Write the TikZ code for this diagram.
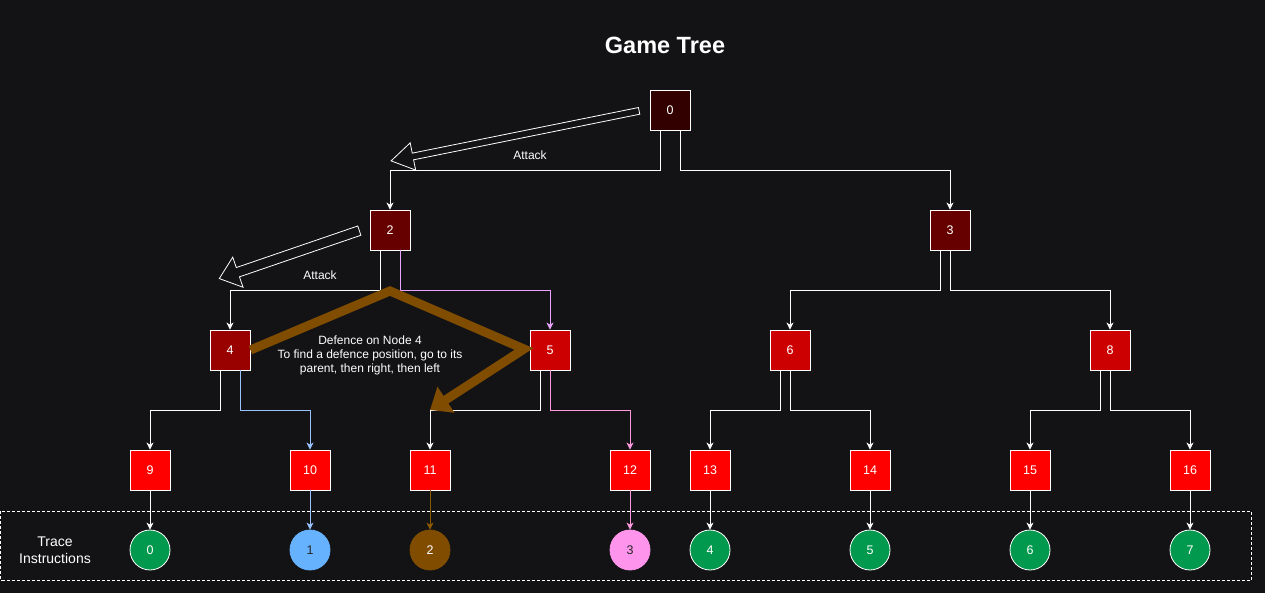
\documentclass[tikz,border=0pt]{standalone}
\usepackage{fontspec}
\setmainfont{Liberation Sans}
\usetikzlibrary{arrows.meta,shapes.arrows}

\definecolor{bgdark}{HTML}{131315}
\definecolor{red0}{HTML}{330000}
\definecolor{red1}{HTML}{660000}
\definecolor{red2}{HTML}{990000}
\definecolor{red3}{HTML}{CC0000}
\definecolor{red4}{HTML}{FF0000}
\definecolor{greenleaf}{HTML}{00994D}
\definecolor{blueleaf}{HTML}{66B2FF}
\definecolor{brownleaf}{HTML}{7F4C00}
\definecolor{pinkleaf}{HTML}{FF94EC}
\definecolor{violetline}{HTML}{E8A4FF}
\definecolor{blueline}{HTML}{99C2FF}
\definecolor{pinkline}{HTML}{FF9ADF}
\definecolor{brownline}{HTML}{8C5A00}

\begin{document}
\begin{tikzpicture}[x=1pt,y=-1pt]
      \tikzset { box/.style = { shape=rectangle,draw=white,line width=0.9pt,minimum size=40pt,inner sep=0pt,text=white,font=\fontsize{12.5}{14}\selectfont } }
      \tikzset { leaf/.style = { shape=circle,draw=white,line width=0.8pt,minimum size=40pt,inner sep=0pt,text=white,font=\fontsize{12.5}{14}\selectfont } }
      \tikzset { edge/.style = { -{Stealth[length=7pt,width=7pt,inset=2pt]},color=white,line width=0.9pt } }
      \tikzset { attack/.style = { shape=single arrow,draw=white,line width=0.8pt,anchor=tail,inner xsep=0pt } }
      \tikzset { label/.style = { text=white,font=\fontsize{12}{14}\selectfont,align=center } }

      % background and frame
      \fill[bgdark] (0,0) rectangle (1265,593);
      \useasboundingbox (0,0) rectangle (1265,593);
      \draw[white,line width=0.8pt,dash pattern=on 3pt off 2pt] (0.5,511) rectangle (1251,580);

      \node[label,font=\fontsize{23.5}{26}\selectfont\bfseries] (title) at (665,45) {Game Tree};
      \node[label,font=\fontsize{14}{16.5}\selectfont] (trace) at (55,550) {Trace\\Instructions};

      % tree
      \node[box,fill=red0] (n0) at (670,110) {0};
      \node[box,fill=red1] (n2) at (390,230) {2};
      \node[box,fill=red1] (n3) at (950,230) {3};
      \node[box,fill=red2] (n4) at (230,350) {4};
      \node[box,fill=red3] (n5) at (550,350) {5};
      \node[box,fill=red3] (n6) at (790,350) {6};
      \node[box,fill=red3] (n8) at (1110,350) {8};
      \node[box,fill=red4] (n9) at (150,470) {9};
      \node[box,fill=red4] (n10) at (310,470) {10};
      \node[box,fill=red4] (n11) at (430,470) {11};
      \node[box,fill=red4] (n12) at (630,470) {12};
      \node[box,fill=red4] (n13) at (710,470) {13};
      \node[box,fill=red4] (n14) at (870,470) {14};
      \node[box,fill=red4] (n15) at (1030,470) {15};
      \node[box,fill=red4] (n16) at (1190,470) {16};

      % trace instructions
      \node[leaf,fill=greenleaf] (t0) at (150,550) {0};
      \node[leaf,fill=blueleaf,draw=blueleaf,text=black!85] (t1) at (310,550) {1};
      \node[leaf,fill=brownleaf,draw=brownleaf] (t2) at (430,550) {2};
      \node[leaf,fill=pinkleaf,draw=pinkleaf,text=black!85] (t3) at (630,550) {3};
      \node[leaf,fill=greenleaf] (t4) at (710,550) {4};
      \node[leaf,fill=greenleaf] (t5) at (870,550) {5};
      \node[leaf,fill=greenleaf] (t6) at (1030,550) {6};
      \node[leaf,fill=greenleaf] (t7) at (1190,550) {7};

      \draw[edge] ([xshift=-10pt]n0.south) -- ++(0,40) -| (n2.north);
      \draw[edge] ([xshift=10pt]n0.south) -- ++(0,40) -| (n3.north);
      \draw[edge] ([xshift=-10pt]n2.south) -- ++(0,40) -| (n4.north);
      \draw[edge,color=violetline] ([xshift=10pt]n2.south) -- ++(0,40) -| (n5.north);
      \draw[edge] ([xshift=-10pt]n3.south) -- ++(0,40) -| (n6.north);
      \draw[edge] (n3.south) -- ++(0,40) -| (n8.north);
      \draw[edge] ([xshift=-10pt]n4.south) -- ++(0,40) -| (n9.north);
      \draw[edge,color=blueline] ([xshift=10pt]n4.south) -- ++(0,40) -| (n10.north);
      \draw[edge] ([xshift=-10pt]n5.south) -- ++(0,40) -| (n11.north);
      \draw[edge,color=pinkline] (n5.south) -- ++(0,40) -| (n12.north);
      \draw[edge] ([xshift=-10pt]n6.south) -- ++(0,40) -| (n13.north);
      \draw[edge] (n6.south) -- ++(0,40) -| (n14.north);
      \draw[edge] ([xshift=-10pt]n8.south) -- ++(0,40) -| (n15.north);
      \draw[edge] (n8.south) -- ++(0,40) -| (n16.north);

      \draw[edge] (n9) to (t0);
      \draw[edge,color=blueline] (n10) to (t1);
      \draw[edge,color=brownline] (n11) to (t2);
      \draw[edge,color=pinkline] (n12) to (t3);
      \draw[edge] (n13) to (t4);
      \draw[edge] (n14) to (t5);
      \draw[edge] (n15) to (t6);
      \draw[edge] (n16) to (t7);

      % attack arrows
      \node[attack,inner ysep=3pt,minimum height=253pt,single arrow head extend=10.5pt,single arrow tip angle=64,rotate=191.4] (atk1) at (639.5,110.8) {};
      \node[attack,inner ysep=4.5pt,minimum height=148pt,single arrow head extend=11pt,single arrow tip angle=78,rotate=198.9] (atk2) at (359.7,230.5) {};
      \node[label] (atk1l) at (530,155) {Attack};
      \node[label] (atk2l) at (320,275) {Attack};

      % defence path
      \coordinate (dpeak) at (390,291);
      \coordinate (dturn) at (524,349);
      \coordinate (dend) at (430,410);
      \draw[brownleaf,line width=9pt,line join=miter,-{Triangle[width=30pt,length=19pt]}] (n4.east) -- (dpeak) -- (dturn) -- (dend);
      \node[label] (defence) at (370,355) {Defence on Node 4\\To find a defence position, go to its\\parent, then right, then left};

    \end{tikzpicture}
\end{document}
